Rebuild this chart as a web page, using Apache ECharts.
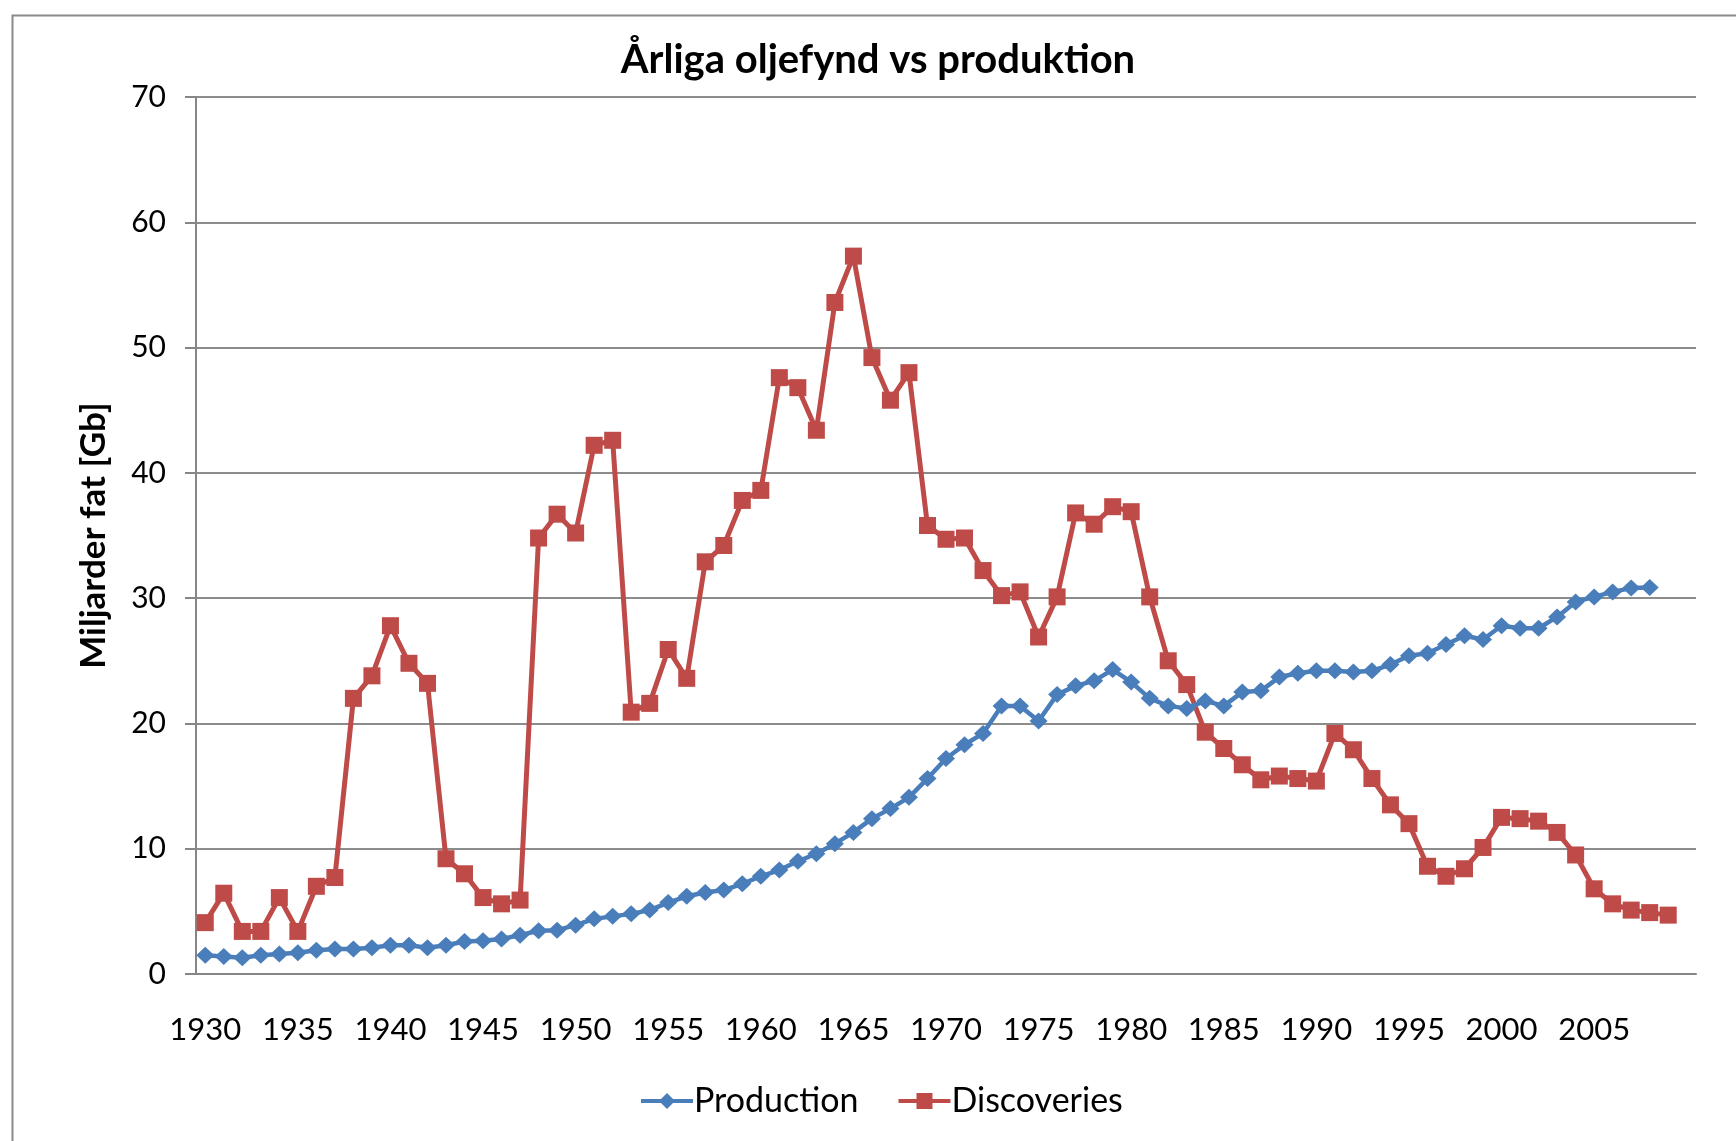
<!DOCTYPE html>
<html>
<head>
<meta charset="utf-8">
<title>Årliga oljefynd vs produktion</title>
<script src="https://cdn.jsdelivr.net/npm/echarts@6/dist/echarts.min.js"></script>
<style>
  html, body { margin: 0; padding: 0; background: #fff; }
  #chart { width: 1736px; height: 1141px; }
</style>
</head>
<body>
<div id="chart"></div>
<script>
// år 1930-2010 (2010 är en tom kategori, som i Excel-diagrammet)
var years = [];
for (var y = 1930; y <= 2010; y++) years.push(String(y));

// miljarder fat per år, 1930-2008
var production = [
  1.5, 1.4, 1.3, 1.5, 1.6, 1.7, 1.9, 2.0, 2.0, 2.1,
  2.3, 2.3, 2.1, 2.3, 2.6, 2.65, 2.8, 3.1, 3.45, 3.5,
  3.9, 4.4, 4.6, 4.8, 5.1, 5.7, 6.2, 6.5, 6.7, 7.2,
  7.8, 8.3, 9.0, 9.6, 10.4, 11.3, 12.4, 13.2, 14.1, 15.6,
  17.2, 18.3, 19.2, 21.4, 21.4, 20.2, 22.3, 23.0, 23.4, 24.3,
  23.3, 22.0, 21.4, 21.2, 21.8, 21.4, 22.5, 22.6, 23.7, 24.0,
  24.2, 24.2, 24.1, 24.2, 24.7, 25.4, 25.6, 26.3, 27.0, 26.7,
  27.8, 27.6, 27.6, 28.5, 29.7, 30.1, 30.5, 30.8, 30.85
];

// miljarder fat per år, 1930-2009
var discoveries = [
  4.1, 6.45, 3.4, 3.4, 6.1, 3.4, 7.0, 7.7, 22.0, 23.8,
  27.8, 24.8, 23.2, 9.2, 8.0, 6.1, 5.6, 5.9, 34.8, 36.7,
  35.2, 42.2, 42.6, 20.9, 21.6, 25.9, 23.6, 32.9, 34.2, 37.8,
  38.6, 47.6, 46.8, 43.4, 53.6, 57.3, 49.2, 45.8, 48.0, 35.8,
  34.7, 34.8, 32.2, 30.2, 30.5, 26.9, 30.1, 36.8, 35.9, 37.3,
  36.9, 30.1, 25.0, 23.1, 19.3, 18.0, 16.7, 15.5, 15.8, 15.6,
  15.4, 19.2, 17.9, 15.6, 13.5, 12.0, 8.6, 7.8, 8.4, 10.1,
  12.5, 12.4, 12.2, 11.3, 9.5, 6.8, 5.6, 5.1, 4.9, 4.7
];

var yTicks = [0, 10, 20, 30, 40, 50, 60, 70];

var font = "Lato, 'Open Sans', sans-serif";
var myChart = echarts.init(document.getElementById("chart"));

var option = {
  backgroundColor: "#fff",
  animation: false,
  textStyle: { fontFamily: font },
  title: {
    text: "Årliga oljefynd vs produktion",
    left: 873,
    textAlign: "center",
    top: 35,
    textStyle: { fontSize: 40, fontWeight: "bold", color: "#000", fontFamily: font },
  },
  // ram runt diagramytan
  graphic: [
    {
      type: "rect",
      left: 10,
      top: 13,
      shape: { width: 1800, height: 1200 },
      style: { fill: null, stroke: "#8a8a8a", lineWidth: 2 },
      silent: true,
    },
  ],
  legend: {
    bottom: 18,
    left: 634,
    itemWidth: 52,
    itemHeight: 20,
    itemGap: 38,
    lineStyle: { width: 4 },
    textStyle: { fontSize: 34, color: "#000", fontFamily: font, padding: [0, 0, 0, -4] },
    data: ["Production", "Discoveries"],
  },
  grid: { left: 196, right: 40, top: 97, bottom: 167, containLabel: false },
  xAxis: {
    type: "category",
    data: years,
    boundaryGap: true,
    axisLine: { lineStyle: { color: "#868686", width: 2 } },
    axisTick: { interval: 4, length: 11, lineStyle: { color: "#868686", width: 2 } },
    axisLabel: {
      interval: function (idx) { return idx % 5 === 0 && idx < 80; },
      fontSize: 31,
      color: "#000",
      margin: 40,
      fontFamily: font,
    },
    splitLine: { show: false },
  },
  yAxis: {
    type: "value",
    min: yTicks[0],
    max: yTicks[yTicks.length - 1],
    interval: 10,
    name: "Miljarder fat [Gb]",
    nameLocation: "middle",
    nameRotate: 90,
    nameGap: 85,
    nameTextStyle: { fontSize: 35, fontWeight: "bold", color: "#000", fontFamily: font },
    axisLine: { show: true, lineStyle: { color: "#868686", width: 2 } },
    axisTick: { show: true, length: 11, lineStyle: { color: "#868686", width: 2 } },
    axisLabel: { fontSize: 30, color: "#000", margin: 30, fontFamily: font },
    splitLine: { lineStyle: { color: "#8c8c8c", width: 2 } },
  },
  series: [
    {
      name: "Production",
      type: "line",
      data: production,
      symbol: "diamond",
      symbolSize: [18, 17],
      showAllSymbol: true,
      lineStyle: { color: "#4a7ebb", width: 4.5 },
      itemStyle: { color: "#4a7ebb" },
      z: 3,
    },
    {
      name: "Discoveries",
      type: "line",
      data: discoveries,
      symbol: "rect",
      symbolSize: 17,
      showAllSymbol: true,
      lineStyle: { color: "#be4b48", width: 5 },
      itemStyle: { color: "#be4b48" },
      z: 2,
    },
  ],
};

option && myChart.setOption(option);
</script>
</body>
</html>
